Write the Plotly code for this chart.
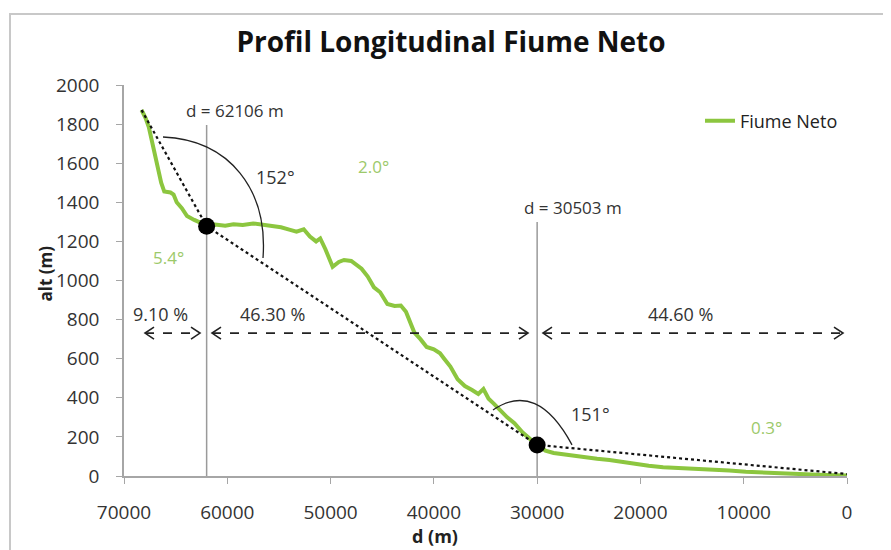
import numpy as np
import plotly.graph_objects as go

# ---- data ----
dist_m = [68300, 67900, 67600, 67200, 66800, 66400, 66100, 65500, 65200, 64900, 64400, 63900,
          63200, 62600, 62000, 61200, 60200, 59400, 58500, 57500, 56500, 55600, 54800, 54000,
          53300, 52600, 52000, 51400, 51000, 50500, 49800, 49200, 48700, 48000, 47400, 47000,
          46400, 45800, 45200, 44500, 43800, 43200, 42700, 42300, 41900, 41300, 40700, 40000,
          39400, 39000, 38400, 37700, 37000, 36300, 35700, 35200, 34700, 34200, 33500, 32900,
          32200, 31400, 30700, 30000, 29200, 28400, 27400, 26300, 25200, 24200, 23000, 21800,
          20500, 19200, 17800, 16200, 14600, 13000, 11400, 9800, 8000, 6200, 4500, 2800, 1200, 0]
alt_m = [1872, 1830, 1785, 1690, 1580, 1500, 1455, 1450, 1440, 1400, 1370, 1330,
         1310, 1294, 1282, 1286, 1280, 1288, 1284, 1292, 1286, 1282, 1272, 1260,
         1250, 1262, 1225, 1200, 1215, 1160, 1070, 1095, 1105, 1100, 1075, 1060,
         1020, 965, 940, 880, 870, 872, 840, 790, 735, 700, 660, 648,
         628, 600, 560, 495, 460, 440, 420, 445, 395, 370, 330, 300,
         270, 222, 190, 160, 130, 118, 110, 102, 95, 88, 82, 72,
         62, 52, 45, 42, 36, 31, 28, 22, 17, 14, 10, 6, 4, 2]

# knick points and reference (dotted) line
seg_d = [68300, 62000, 30000, 0]
seg_alt = [1872, 1278, 159, 10]
knick_d = [62000, 30000]
knick_alt = [1278, 159]
knick_top = [1795, 1299]
knick_labels = ["d = 62106 m", "d = 30503 m"]
knick_label_d = [59253, 26528]

# length shares of the three reaches
share_labels = ["9.10 %", "46.30 %", "44.60 %"]
share_start = [67967, 61480, 29433]
share_end = [62642, 30885, 387]
share_text_d = [66514, 55670, 16168]
share_alt = 731

# angle labels
angle_labels = ["152°", "151°"]
angle_d = [55380, 24882]
angle_alt = [1529, 317]
slope_labels = ["5.4°", "2.0°", "0.3°"]
slope_d = [65740, 45892, 7842]
slope_alt = [1120, 1581, 246]

GREEN = "#8cc63f"
LIGHT_GREEN = "#9cc96a"
FONT = "Open Sans"

# page: 891x550 window, body has an 8px margin -> figure 883x542
FIG_W, FIG_H, BODY = 883, 542, 8
PX_L, PX_R, PX_T, PX_B = 124, 847, 85, 476   # plot area in page pixels
PW, PH = PX_R - PX_L, PX_B - PX_T


def px_x(p):
    return (p - PX_L) / PW


def px_y(p):
    return (PX_B - p) / PH


fig = go.Figure()

fig.add_trace(go.Scatter(x=dist_m, y=alt_m, mode="lines", name="Fiume Neto",
                         line=dict(color=GREEN, width=4), showlegend=True))
fig.add_trace(go.Scatter(x=seg_d, y=seg_alt, mode="lines", showlegend=False,
                         line=dict(color="#111111", width=2.2, dash="dot")))
fig.add_trace(go.Scatter(x=knick_d, y=knick_alt, mode="markers", showlegend=False,
                         marker=dict(color="black", size=17)))

shapes = []
annotations = []

# outer chart border
shapes.append(dict(type="rect", xref="paper", yref="paper",
                   x0=px_x(10), x1=px_x(887), y0=px_y(570), y1=px_y(14),
                   line=dict(color="#c8c8c8", width=2), layer="below"))

# vertical knick lines and labels
for d, top, lab, ld in zip(knick_d, knick_top, knick_labels, knick_label_d):
    shapes.append(dict(type="line", xref="x", yref="y", x0=d, x1=d, y0=0, y1=top,
                       line=dict(color="#9a9a9a", width=1.5), layer="below"))
    annotations.append(dict(x=ld, y=top, xref="x", yref="y", text=lab, showarrow=False,
                            yanchor="bottom", yshift=1, xanchor="center",
                            font=dict(family=FONT, size=17, color="#333333")))

# dashed double arrows
for x0, x1 in zip(share_start, share_end):
    shapes.append(dict(type="line", xref="x", yref="y", x0=x0, x1=x1, y0=share_alt, y1=share_alt,
                       line=dict(color="#222222", width=1.6, dash="dash")))
    shapes.append(dict(type="path", xref="x", yref="y", xsizemode="pixel", ysizemode="pixel",
                       xanchor=x0, yanchor=share_alt, path="M 9,6 L 0,0 L 9,-6",
                       line=dict(color="#222222", width=1.6)))
    shapes.append(dict(type="path", xref="x", yref="y", xsizemode="pixel", ysizemode="pixel",
                       xanchor=x1, yanchor=share_alt, path="M -9,6 L 0,0 L -9,-6",
                       line=dict(color="#222222", width=1.6)))

for d, lab in zip(share_text_d, share_labels):
    annotations.append(dict(x=d, y=share_alt, xref="x", yref="y", text=lab, showarrow=False,
                            yanchor="bottom", yshift=5,
                            font=dict(family=FONT, size=18, color="#333333")))

# angle arcs (Bezier curves in data space)
shapes.append(dict(type="path", xref="x", yref="y",
                   path="M 66224,1734 C 59737,1719 56058,1463 56542,1115",
                   line=dict(color="#222222", width=1.3)))
shapes.append(dict(type="path", xref="x", yref="y",
                   path="M 34274,338 Q 30014,491 26625,159",
                   line=dict(color="#222222", width=1.3)))

for d, a, lab in zip(angle_d, angle_alt, angle_labels):
    annotations.append(dict(x=d, y=a, xref="x", yref="y", text=lab, showarrow=False,
                            font=dict(family=FONT, size=18, color="#333333")))
for d, a, lab in zip(slope_d, slope_alt, slope_labels):
    annotations.append(dict(x=d, y=a, xref="x", yref="y", text=lab, showarrow=False,
                            font=dict(family=FONT, size=17, color=LIGHT_GREEN)))

# axis titles
annotations.append(dict(x=px_x(31), y=px_y(274), xref="paper", yref="paper",
                        text="<b>alt (m)</b>", showarrow=False, textangle=-90,
                        font=dict(family=FONT, size=17, color="#222222")))
annotations.append(dict(x=px_x(435), y=px_y(536), xref="paper", yref="paper",
                        text="<b>d (m)</b>", showarrow=False, yanchor="middle",
                        font=dict(family=FONT, size=18, color="#222222")))

fig.update_layout(
    width=FIG_W, height=FIG_H,
    margin=dict(l=PX_L - BODY, r=FIG_W + BODY - PX_R, t=PX_T - BODY, b=FIG_H + BODY - PX_B),
    paper_bgcolor="white", plot_bgcolor="white",
    font=dict(family=FONT, size=18, color="#333333"),
    title=dict(text="<b>Profil Longitudinal Fiume Neto</b>", x=px_x(451), xref="paper",
               xanchor="center", y=1 - (42 - BODY) / FIG_H, yanchor="middle",
               font=dict(family=FONT, size=28, color="#111111")),
    xaxis=dict(range=[70000, 0], dtick=10000, tickformat="d", showgrid=False, zeroline=False,
               showline=True, linecolor="#a6a6a6", linewidth=1.5, ticks="outside", ticklen=6,
               tickcolor="#a6a6a6", ticklabelstandoff=12,
               tickfont=dict(family=FONT, size=19, color="#333333")),
    yaxis=dict(range=[0, 2000], dtick=200, tickformat="d", showgrid=False, zeroline=False,
               showline=True, linecolor="#a6a6a6", linewidth=1.5, ticks="outside", ticklen=6,
               tickcolor="#a6a6a6", ticklabelstandoff=13,
               tickfont=dict(family=FONT, size=19, color="#333333")),
    legend=dict(x=px_x(700), y=px_y(121), xanchor="left", yanchor="middle",
                bgcolor="rgba(0,0,0,0)", font=dict(family=FONT, size=18, color="#222222"),
                itemwidth=30),
    shapes=shapes,
    annotations=annotations,
)

fig.write_html("out.html")
